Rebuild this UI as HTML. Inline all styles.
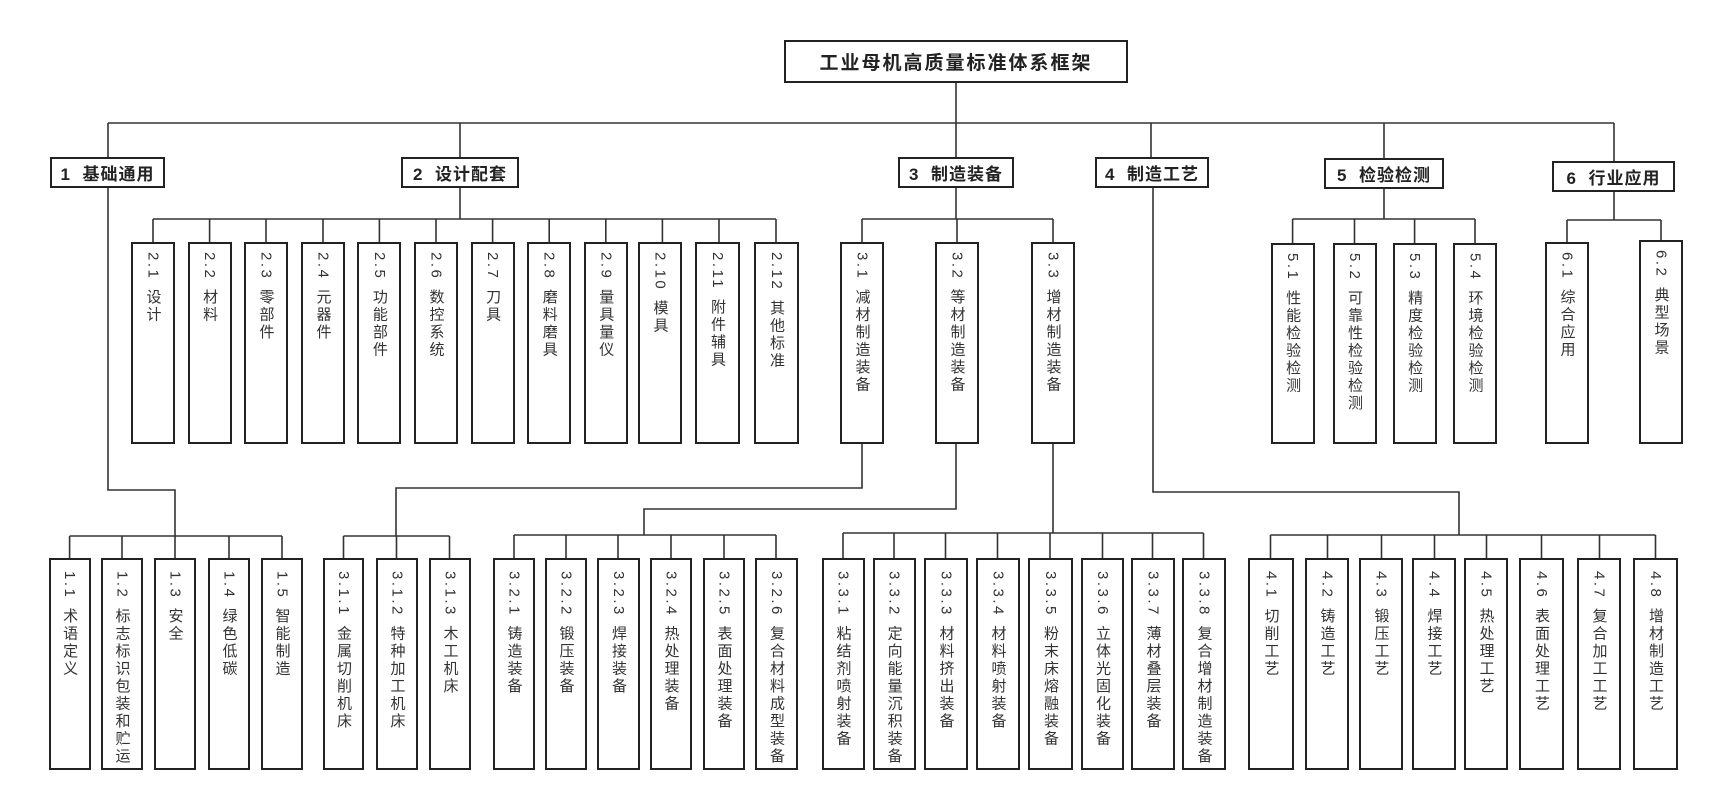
<!DOCTYPE html>
<html><head><meta charset="utf-8"><style>
body{margin:0;background:#fff;}
#c{position:relative;width:1711px;height:787px;overflow:hidden;background:#fff;font-family:"Liberation Sans","Noto Sans CJK SC",sans-serif;color:#222;}
svg{position:absolute;left:0;top:0;}
.b{position:absolute;border:2px solid #222;box-sizing:border-box;display:flex;justify-content:center;padding-top:8px;background:#fff;overflow:hidden;}
.t{writing-mode:vertical-rl;font-size:15px;letter-spacing:2.5px;line-height:1;color:#333;white-space:nowrap;}
.t span{letter-spacing:2.5px;margin-bottom:2px;}
.h{position:absolute;border:2px solid #222;box-sizing:border-box;display:flex;justify-content:center;align-items:center;font-weight:bold;font-size:17px;letter-spacing:1px;background:#fff;}
.top{top:242px;height:202px;}
.bot{top:558px;height:212px;padding-top:11px;}
</style></head><body><div id="c">
<svg width="1711" height="787" stroke="#333" stroke-width="1.6" fill="none">
<path d="M956 83V123M108 123H1614M108 123V157M460 123V157M956 123V157M1151 123V157M1384 123V158M1614 123V161"/>
<path d="M460 188V219M153 219H776M153 219V242M209.6 219V242M266 219V242M323 219V242M379.4 219V242M436 219V242M492.6 219V242M549.2 219V242M605.8 219V242M662.4 219V242M719 219V242M776 219V242"/>
<path d="M956 188V219M862 219H1053M862 219V242M957 219V242M1053 219V242"/>
<path d="M1384 189V219M1292.6 219H1475M1292.6 219V243M1354.5 219V243M1414.6 219V243M1475 219V243"/>
<path d="M1614 192V220M1567 220H1661M1567 220V242M1661 220V240"/>
<path d="M108 188V490H175V536M69.6 536H282M69.6 536V558M122 536V558M175 536V558M229 536V558M282 536V558"/>
<path d="M862 444V488H396V536M343.5 536H449.5M343.5 536V558M396.5 536V558M449.5 536V558"/>
<path d="M956 444V509H644V535M514 535H776M514 535V558M566 535V558M618 535V558M671 535V558M724 535V558M776 535V558"/>
<path d="M1053 444V533M843 533H1203.5M843 533V558M894 533V558M945.5 533V558M997.5 533V558M1050 533V558M1102.5 533V558M1152.5 533V558M1203.5 533V558"/>
<path d="M1153 188V492H1459V535M1270.5 535H1655.5M1270.5 535V558M1327.5 535V558M1381.5 535V558M1434.5 535V558M1486.5 535V558M1541.5 535V558M1599.5 535V558M1655.5 535V558"/>
</svg>
<div class="h" style="left:784px;top:40px;width:344px;height:43px;font-size:19px;letter-spacing:2px;">工业母机高质量标准体系框架</div>
<div class="h" style="left:50px;top:157px;width:115px;height:31px;">1&nbsp;&nbsp;基础通用</div>
<div class="h" style="left:401px;top:157px;width:118px;height:31px;">2&nbsp;&nbsp;设计配套</div>
<div class="h" style="left:898px;top:157px;width:116px;height:31px;">3&nbsp;&nbsp;制造装备</div>
<div class="h" style="left:1095px;top:157px;width:114px;height:31px;">4&nbsp;&nbsp;制造工艺</div>
<div class="h" style="left:1324px;top:158px;width:120px;height:31px;">5&nbsp;&nbsp;检验检测</div>
<div class="h" style="left:1552px;top:161px;width:123px;height:31px;">6&nbsp;&nbsp;行业应用</div>

<div class="b top" style="left:131px;width:44px"><div class="t"><span>2.1</span> 设计</div></div>
<div class="b top" style="left:187.6px;width:44px"><div class="t"><span>2.2</span> 材料</div></div>
<div class="b top" style="left:244px;width:44px"><div class="t"><span>2.3</span> 零部件</div></div>
<div class="b top" style="left:301px;width:44px"><div class="t"><span>2.4</span> 元器件</div></div>
<div class="b top" style="left:357.4px;width:44px"><div class="t"><span>2.5</span> 功能部件</div></div>
<div class="b top" style="left:414px;width:44px"><div class="t"><span>2.6</span> 数控系统</div></div>
<div class="b top" style="left:470.6px;width:44px"><div class="t"><span>2.7</span> 刀具</div></div>
<div class="b top" style="left:527.2px;width:44px"><div class="t"><span>2.8</span> 磨料磨具</div></div>
<div class="b top" style="left:583.8px;width:44px"><div class="t"><span>2.9</span> 量具量仪</div></div>
<div class="b top" style="left:638px;width:44px"><div class="t"><span>2.10</span> 模具</div></div>
<div class="b top" style="left:695px;width:45px"><div class="t"><span>2.11</span> 附件辅具</div></div>
<div class="b top" style="left:754px;width:45px"><div class="t"><span>2.12</span> 其他标准</div></div>

<div class="b top" style="left:840px;width:44px"><div class="t"><span>3.1</span> 减材制造装备</div></div>
<div class="b top" style="left:935px;width:44px"><div class="t"><span>3.2</span> 等材制造装备</div></div>
<div class="b top" style="left:1031px;width:44px"><div class="t"><span>3.3</span> 增材制造装备</div></div>

<div class="b top" style="left:1270.6px;width:44px;top:243px;height:201px"><div class="t"><span>5.1</span> 性能检验检测</div></div>
<div class="b top" style="left:1332.5px;width:44px;top:243px;height:201px"><div class="t"><span>5.2</span> 可靠性检验检测</div></div>
<div class="b top" style="left:1392.6px;width:44px;top:243px;height:201px"><div class="t"><span>5.3</span> 精度检验检测</div></div>
<div class="b top" style="left:1453px;width:44px;top:243px;height:201px"><div class="t"><span>5.4</span> 环境检验检测</div></div>
<div class="b top" style="left:1545px;width:44px"><div class="t"><span>6.1</span> 综合应用</div></div>
<div class="b top" style="left:1639px;width:44px;top:240px;height:204px"><div class="t"><span>6.2</span> 典型场景</div></div>

<div class="b bot" style="left:48.6px;width:42px"><div class="t"><span>1.1</span> 术语定义</div></div>
<div class="b bot" style="left:101px;width:42px"><div class="t"><span>1.2</span> 标志标识包装和贮运</div></div>
<div class="b bot" style="left:154px;width:42px"><div class="t"><span>1.3</span> 安全</div></div>
<div class="b bot" style="left:208px;width:42px"><div class="t"><span>1.4</span> 绿色低碳</div></div>
<div class="b bot" style="left:261px;width:42px"><div class="t"><span>1.5</span> 智能制造</div></div>

<div class="b bot" style="left:323px;width:41px"><div class="t"><span>3.1.1</span> 金属切削机床</div></div>
<div class="b bot" style="left:376px;width:42px"><div class="t"><span>3.1.2</span> 特种加工机床</div></div>
<div class="b bot" style="left:429px;width:42px"><div class="t"><span>3.1.3</span> 木工机床</div></div>

<div class="b bot" style="left:493px;width:42px"><div class="t"><span>3.2.1</span> 铸造装备</div></div>
<div class="b bot" style="left:545px;width:42px"><div class="t"><span>3.2.2</span> 锻压装备</div></div>
<div class="b bot" style="left:597px;width:43px"><div class="t"><span>3.2.3</span> 焊接装备</div></div>
<div class="b bot" style="left:650px;width:42px"><div class="t"><span>3.2.4</span> 热处理装备</div></div>
<div class="b bot" style="left:703px;width:42px"><div class="t"><span>3.2.5</span> 表面处理装备</div></div>
<div class="b bot" style="left:755px;width:43px"><div class="t"><span>3.2.6</span> 复合材料成型装备</div></div>

<div class="b bot" style="left:821.5px;width:43px"><div class="t"><span>3.3.1</span> 粘结剂喷射装备</div></div>
<div class="b bot" style="left:872.6px;width:43px"><div class="t"><span>3.3.2</span> 定向能量沉积装备</div></div>
<div class="b bot" style="left:924px;width:44px"><div class="t"><span>3.3.3</span> 材料挤出装备</div></div>
<div class="b bot" style="left:976px;width:44px"><div class="t"><span>3.3.4</span> 材料喷射装备</div></div>
<div class="b bot" style="left:1028px;width:45px"><div class="t"><span>3.3.5</span> 粉末床熔融装备</div></div>
<div class="b bot" style="left:1081px;width:43px"><div class="t"><span>3.3.6</span> 立体光固化装备</div></div>
<div class="b bot" style="left:1131px;width:44px"><div class="t"><span>3.3.7</span> 薄材叠层装备</div></div>
<div class="b bot" style="left:1182px;width:44px"><div class="t"><span>3.3.8</span> 复合增材制造装备</div></div>

<div class="b bot" style="left:1248px;width:46px"><div class="t"><span>4.1</span> 切削工艺</div></div>
<div class="b bot" style="left:1305px;width:44px"><div class="t"><span>4.2</span> 铸造工艺</div></div>
<div class="b bot" style="left:1359px;width:44px"><div class="t"><span>4.3</span> 锻压工艺</div></div>
<div class="b bot" style="left:1412px;width:44px"><div class="t"><span>4.4</span> 焊接工艺</div></div>
<div class="b bot" style="left:1464px;width:44px"><div class="t"><span>4.5</span> 热处理工艺</div></div>
<div class="b bot" style="left:1519px;width:45px"><div class="t"><span>4.6</span> 表面处理工艺</div></div>
<div class="b bot" style="left:1577px;width:44px"><div class="t"><span>4.7</span> 复合加工工艺</div></div>
<div class="b bot" style="left:1633px;width:45px"><div class="t"><span>4.8</span> 增材制造工艺</div></div>
</div></body></html>
